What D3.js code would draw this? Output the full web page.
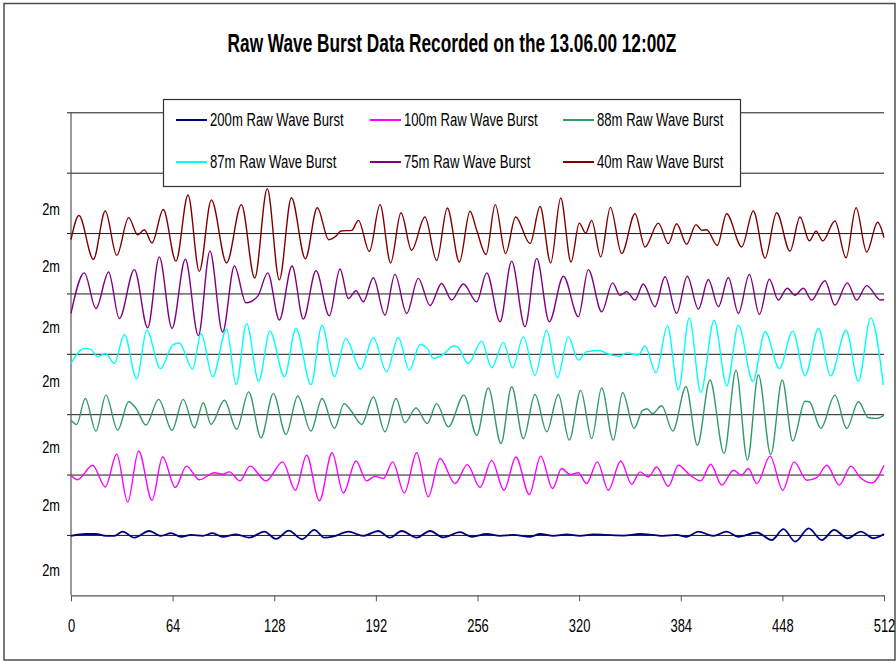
<!DOCTYPE html>
<html>
<head>
<meta charset="utf-8">
<script src="https://cdnjs.cloudflare.com/ajax/libs/d3/7.8.5/d3.min.js"></script>
<title>Raw Wave Burst</title>
<style>
  body { margin: 0; background: #fff; }
  text { font-family: "Liberation Sans", Arial, sans-serif; fill: #000; }
</style>
</head>
<body>
<script>
// series names, legend order (row by row)
const names = ["200m Raw Wave Burst", "100m Raw Wave Burst", "88m Raw Wave Burst",
               "87m Raw Wave Burst", "75m Raw Wave Burst", "40m Raw Wave Burst"];
// each trace sits on its own baseline (metres)
const offsets = [2, 4, 6, 8, 10, 12];
const colors = ["#000080", "#FF00FF", "#339966", "#00FFFF", "#800080", "#800000"];

const s200 = [[0,-0.03],[9.4,0.03],[15.7,0.03],[22,-0.03],[27.3,-0.03],[32.5,0.11],[39.9,-0.09],[49.3,0.13],[56.7,-0.03],[63,0.06],[69.3,-0.06],[75.6,0],[82.9,-0.03],[89.2,0.06],[95.5,-0.06],[103.9,0.02],[112.3,-0.09],[121.8,0.11],[129.1,-0.13],[137.1,0.14],[145.5,-0.14],[153.3,0.17],[159.6,-0.09],[164.8,-0.06],[174.7,0.11],[184.1,-0.03],[193.5,0.13],[200.9,-0.09],[208.2,0.13],[217.7,-0.09],[226.1,0.13],[234.5,-0.08],[245,0.09],[252.3,-0.06],[261.8,0.03],[270.2,-0.03],[278.6,0],[289.1,-0.06],[295.4,0.03],[303.8,-0.03],[312.2,0.02],[320.6,-0.03],[328.9,0.02],[337.3,0],[347.9,-0.02],[358.4,0.03],[366.7,0],[373,-0.03],[381.4,0],[387.7,-0.06],[395.1,0.11],[404.5,-0.03],[412.9,0.11],[420.3,-0.06],[431.9,0.08],[441.3,-0.17],[448.7,0.19],[456.1,-0.22],[464.5,0.22],[472.9,-0.17],[480.6,0.17],[489,-0.11],[497.4,0.11],[505.4,-0.11],[512,0.03]];
const s100 = [[0,-0.02],[4.2,-0.17],[13.6,0.31],[21.6,-0.41],[28.8,0.67],[35.7,-0.91],[42.6,0.78],[51,-0.85],[57.7,0.58],[65.7,-0.43],[72.7,0.28],[80.8,-0.17],[90.3,0.06],[95.5,0.01],[99.7,0.09],[106.4,-0.21],[112.7,0.28],[122.8,-0.21],[133.3,0.42],[141.3,-0.52],[148.4,0.64],[156.4,-0.87],[164.4,0.72],[171.5,-0.61],[179.5,0.45],[186.2,-0.21],[191.4,-0.06],[196.7,-0.13],[202.6,0.42],[209.9,-0.61],[217.7,0.72],[225,-0.74],[232.4,0.53],[241.8,-0.3],[249.6,0.33],[257.6,-0.43],[264.9,0.47],[272.7,-0.52],[280.2,0.58],[288.6,-0.66],[295.8,0.61],[303.3,-0.46],[309,0.2],[314.3,0],[319.5,0.06],[324.7,-0.3],[331.5,0.42],[338.4,-0.52],[346.2,0.45],[353.1,-0.32],[358.4,0.09],[363.7,-0.08],[368.8,0.25],[376.2,-0.39],[382.5,0.31],[389.9,-0.02],[396.6,-0.21],[402.9,0.34],[409.8,-0.35],[417.2,0.14],[422.4,-0.02],[426.6,0.2],[431.9,-0.3],[440.3,0.61],[448.2,-0.52],[455.4,0.42],[463.4,-0.19],[469.7,-0.1],[476,0.31],[483.9,-0.35],[491.2,0.28],[497,-0.1],[504.4,-0.28],[512,0.31]];
const s88 = [[0,-0.2],[3.6,-0.34],[9,0.52],[15.7,-0.56],[22,0.63],[29.4,-0.53],[36.3,0.41],[41,0.19],[47.2,-0.36],[55.2,0.49],[63.6,-0.53],[70.7,0.49],[77.7,-0.45],[83.3,0.38],[88.2,-0.34],[96.6,0.46],[104.3,-0.5],[111.9,0.74],[119.7,-0.78],[127.4,0.68],[135.4,-0.67],[142.8,0.6],[151.1,-0.56],[158.1,0.52],[165.9,-0.47],[172,0.35],[176.8,0.08],[183.1,-0.34],[190.4,0.57],[197.7,-0.58],[204.7,0.52],[210.3,-0.28],[217.3,0.21],[224.4,-0.31],[230.3,0.35],[237.6,-0.42],[247.5,0.63],[255.5,-0.7],[262.8,0.87],[270.8,-0.97],[277.5,0.91],[284.9,-0.81],[292.2,0.65],[299.6,-0.58],[306.9,0.65],[313.8,-0.86],[321,0.79],[327.9,-0.81],[334.2,0.87],[341.5,-0.86],[347.4,0.72],[354.6,-0.47],[360,0.13],[363,0.17],[366.3,0.02],[372,0.28],[379,-0.56],[387.3,0.91],[394.5,-1.03],[402.4,1.13],[411.3,-1.3],[418.8,1.46],[426,-1.52],[432.9,1.31],[440.7,-1.34],[447.9,1.13],[454.5,-0.89],[462.3,0.43],[465,0.41],[472.2,-0.47],[481.1,0.63],[488.5,-0.47],[495.9,0.41],[502.2,-0.12],[507.5,-0.14],[512,-0.03]];
const s87 = [[0,-0.32],[8.4,0.18],[12.6,0.14],[16.8,-0.1],[21.6,0.01],[27.3,-0.32],[33.6,0.64],[41.4,-0.84],[47.7,0.78],[56.3,-0.49],[64,0.29],[68.2,0.36],[76.6,-0.51],[81.9,0.67],[89.2,-0.76],[98,0.82],[104,-1.02],[110.6,1.0],[118.2,-0.91],[125.3,0.75],[134.4,-0.76],[141.7,0.84],[151.1,-1.02],[158.1,0.95],[165.9,-0.76],[173,0.51],[182.4,-0.51],[190.4,0.53],[198.8,-0.6],[206.1,0.54],[213.1,-0.54],[219.8,0.31],[224.4,0.18],[228.2,-0.15],[234.5,-0.02],[240.8,0.26],[243.3,0.23],[250.2,-0.32],[258.6,0.42],[264.9,-0.46],[272.3,0.38],[278.1,-0.46],[284.9,0.56],[292.2,-0.71],[299.6,0.78],[306.3,-0.79],[313.2,0.56],[319.5,-0.21],[324.7,0.07],[333.1,0.11],[337.3,0.01],[345.7,-0.08],[349.9,0.03],[357.3,-0.04],[361.5,0.26],[368.4,-0.63],[375.6,0.93],[382.5,-1.2],[389.4,1.19],[396.6,-1.28],[405,1.11],[413,-1.06],[420.3,0.95],[429.4,-0.91],[437.1,0.73],[446.1,-0.49],[454.5,0.75],[462.3,-0.73],[470.7,0.84],[478.4,-0.73],[488.1,0.78],[495.9,-0.91],[503.6,1.19],[511.6,-1.04]];
const s75 = [[0,-0.66],[8.4,0.68],[15.7,-0.5],[23.7,0.71],[30.4,-0.83],[39.9,0.79],[48.3,-1.14],[55.6,1.21],[63.6,-1.16],[72,1.13],[80.2,-1.4],[87.5,1.4],[95.5,-1.29],[102.9,0.91],[110.2,-0.31],[117.6,-0.09],[123.9,0.68],[131.2,-0.88],[139.2,0.91],[146.3,-0.85],[154.3,0.75],[162.7,-0.74],[169.4,0.81],[174.7,-0.17],[179.5,0.09],[184.1,-0.28],[190.4,0.52],[197.7,-0.72],[204,0.63],[211.4,-0.66],[218.7,0.5],[226.1,-0.4],[233.4,0.33],[239.7,-0.22],[247.1,0.31],[255.5,-0.28],[261.8,0.68],[270.2,-0.94],[277.5,1.07],[285.9,-1.1],[293.3,1.16],[301.2,-0.94],[310.1,0.57],[319.5,-0.77],[325.8,0.79],[334.2,-0.61],[341.1,0.35],[345.7,-0.06],[349.9,0.06],[355.2,-0.22],[360.4,0.31],[367.8,-0.44],[374.1,0.55],[381.4,-0.66],[388.1,0.57],[395.1,-0.52],[401.4,0.46],[407.7,-0.44],[414,0.53],[420.3,-0.66],[427.2,0.63],[433.5,-0.7],[439.8,0.47],[445.4,-0.22],[451.1,0.17],[455.9,-0.06],[461.2,0.17],[466.4,-0.22],[474.8,0.42],[481.1,-0.39],[488.9,0.35],[494.8,-0.22],[501.1,0.26],[509.9,-0.22],[512,-0.2]];
const s40 = [[0,-0.22],[5,0.58],[14.1,-0.87],[21.6,0.73],[28.8,-0.74],[36.3,0.51],[42,-0.06],[46.2,0.11],[51,-0.33],[58.1,0.78],[66.1,-0.93],[73.7,1.26],[80.8,-1.27],[88.4,1.1],[98,-0.99],[107.3,0.94],[115.7,-1.49],[123.6,1.47],[131.2,-1.55],[138.8,1.17],[147.6,-0.85],[155.1,0.84],[162.3,-0.22],[167.3,-0.08],[170,0.07],[176.8,0.09],[181,0.42],[187.9,-0.61],[194.6,0.94],[201.3,-0.99],[207.8,0.67],[214.5,-0.57],[222.9,0.53],[230.3,-0.91],[237,0.83],[244.6,-0.96],[251.3,0.72],[255.5,0.09],[261.4,-0.71],[267.2,0.94],[273.7,-0.68],[280,0.53],[289.1,-0.35],[295.4,0.88],[302.1,-0.99],[308.4,1.16],[314.9,-0.96],[320.1,0.33],[324.1,0],[327.9,0.42],[333.6,-0.79],[339.7,0.85],[346.8,-0.68],[355.2,0.64],[361.5,-0.46],[369.9,0.33],[376.2,-0.35],[381.4,0.31],[387.7,-0.37],[393.6,0.28],[397.2,0.09],[400.3,0.11],[407,-0.41],[412.9,0.64],[422.4,-0.46],[429.7,0.73],[437.1,-0.83],[444.4,0.67],[452.8,-0.6],[459.1,0.53],[465,-0.26],[469.2,0.06],[473.4,-0.26],[481.1,0.4],[488.1,-0.82],[494.4,0.84],[501.1,-0.63],[508,0.36],[512,-0.15]];
const series = [s200, s100, s88, s87, s75, s40];

const xTicks = [0, 64, 128, 192, 256, 320, 384, 448, 512];
const gridVals = [2, 4, 6, 8, 10, 12, 14, 16];
// the "2m" labels sit off the grid lines in the original
const yLabelVals = [0.84, 2.99, 4.91, 7.07, 8.89, 10.91, 12.8];

const W = 896, H = 662;
const svg = d3.select("body").append("svg").attr("width", W).attr("height", H);

// chart frame
svg.append("rect").attr("x", 4).attr("y", 3.5).attr("width", 891).attr("height", 656.5)
  .attr("fill", "#fff").attr("stroke", "#4d4d4d").attr("stroke-width", 1.5);

// the original uses a narrow face, so squeeze Liberation Sans sideways
svg.append("text").attr("transform", "translate(452,52) scale(0.69,1)").attr("text-anchor", "middle")
  .style("font-size", "25px").style("font-weight", "bold")
  .text("Raw Wave Burst Data Recorded on the 13.06.00 12:00Z");

const x = d3.scaleLinear().domain([0, 512]).range([71, 884]);
const y = d3.scaleLinear().domain([0, 16]).range([595.3, 112.3]);

// grid lines with short outside ticks
const grid = svg.append("g").attr("transform", "translate(67,0)")
  .call(d3.axisLeft(y).tickValues(gridVals).tickSize(-(884 - 67)).tickFormat(""));
grid.select(".domain").remove();
grid.selectAll(".tick line").attr("stroke", "#1a1a1a");

const yl = svg.append("g").attr("transform", "translate(71,0)")
  .call(d3.axisLeft(y).tickValues(yLabelVals).tickSize(0).tickPadding(11 / 0.8).tickFormat(() => "2m"));
yl.select(".domain").remove();
yl.selectAll("text").style("font-size", "16px").attr("transform", "scale(0.8,1)");

svg.append("line").attr("x1", 71).attr("x2", 71).attr("y1", y(16)).attr("y2", y(0))
  .attr("stroke", "#555").attr("stroke-width", 1.2);

const xa = svg.append("g").attr("transform", "translate(0," + y(0) + ")")
  .call(d3.axisBottom(x).tickValues(xTicks).tickSize(6).tickPadding(17.6).tickSizeOuter(0));
xa.select(".domain").attr("stroke", "#555").attr("stroke-width", 1.2);
xa.selectAll(".tick line").attr("stroke", "#555");
xa.selectAll("text").style("font-size", "18px").attr("transform", "scale(0.72,1)");

const line = d3.line().curve(d3.curveMonotoneX);
series.forEach((s, i) => {
  svg.append("path")
    .attr("d", line(s.map(d => [x(d[0]), y(offsets[i] + d[1])])))
    .attr("fill", "none")
    .attr("stroke", colors[i])
    .attr("stroke-width", i === 0 ? 1.8 : 1.4);
});

// legend
const lg = svg.append("g");
lg.append("rect").attr("x", 163.5).attr("y", 99.5).attr("width", 577).attr("height", 87)
  .attr("fill", "#fff").attr("stroke", "#333").attr("stroke-width", 1.2);
const colX = [176, 370, 563];
const rowY = [120, 162];
names.forEach((n, i) => {
  const cx = colX[i % 3], cy = rowY[Math.floor(i / 3)];
  lg.append("line").attr("x1", cx).attr("x2", cx + 31).attr("y1", cy).attr("y2", cy)
    .attr("stroke", colors[i]).attr("stroke-width", 2);
  lg.append("text").attr("transform", "translate(" + (cx + 34) + "," + cy + ") scale(0.75,1)")
    .attr("dy", "0.35em").style("font-size", "17.5px").text(n);
});
</script>
</body>
</html>
